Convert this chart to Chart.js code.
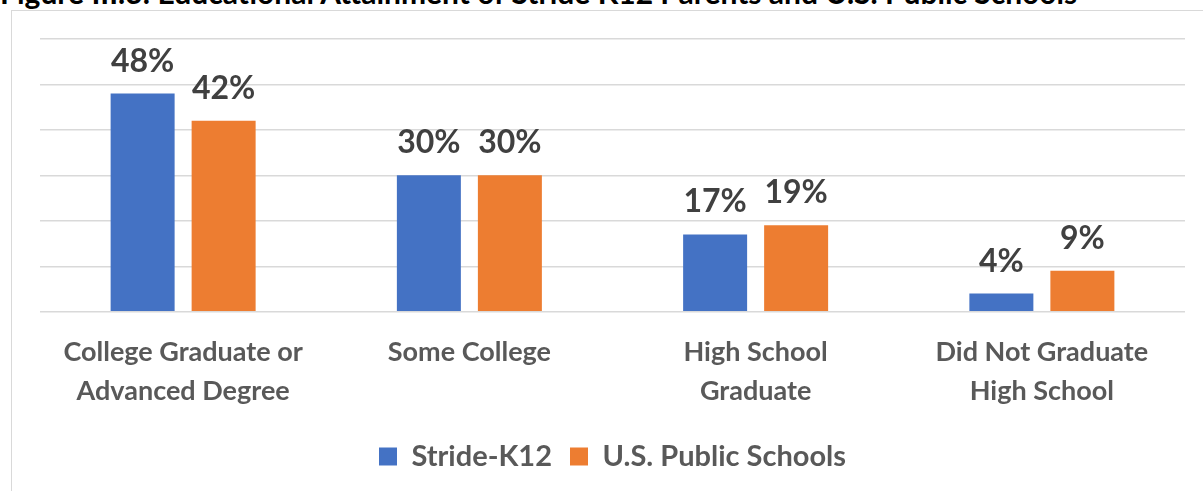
<!DOCTYPE html>
<html>
<head>
<meta charset="utf-8">
<script src="https://cdn.jsdelivr.net/npm/chart.js@4"></script>
<style>
    html, body { margin: 0; padding: 0; background: #fff; overflow: hidden; }
    #wrap { position: relative; width: 1203px; height: 491px; overflow: hidden; }
    #title {
        position: absolute; left: 0; top: -23px; white-space: nowrap;
        font: bold 30px Lato, sans-serif; color: #000; line-height: 30px;
    }
    #frame {
        position: absolute; left: 11px; top: 10px; width: 1300px; height: 600px;
        border: 1.5px solid #d9d9d9;
    }
    #box { position: absolute; left: 0; top: 0; width: 1203px; height: 491px; }
</style>
</head>
<body>
<div id="wrap">
    <div id="title">Figure III.3: Educational Attainment of Stride K12 Parents and U.S. Public Schools</div>
    <div id="frame"></div>
    <div id="box"><canvas id="chart"></canvas></div>
</div>
<script>
// data
const categories = [
    ["College Graduate or", "Advanced Degree"],
    ["Some College"],
    ["High School", "Graduate"],
    ["Did Not Graduate", "High School"]
];
const strideK12 = [48, 30, 17, 4];
const usPublic = [42, 30, 19, 9];
const seriesNames = ["Stride-K12", "U.S. Public Schools"];

const font = "Lato, sans-serif";

// percent labels above each bar
const barLabels = {
    id: "barLabels",
    afterDatasetsDraw(chart) {
        const ctx = chart.ctx;
        ctx.save();
        ctx.font = `bold 32px ${font}`;
        ctx.fillStyle = "#404040";
        ctx.textAlign = "center";
        ctx.textBaseline = "alphabetic";
        chart.data.datasets.forEach((ds, i) => {
            chart.getDatasetMeta(i).data.forEach((bar, j) => {
                ctx.fillText(ds.data[j] + "%", bar.x, bar.y - 22);
            });
        });
        ctx.restore();
    }
};

new Chart(document.getElementById("chart"), {
    type: "bar",
    data: {
        labels: categories,
        datasets: [{
            label: seriesNames[0],
            data: strideK12,
            backgroundColor: "#4472C4",
            categoryPercentage: 0.566,
            barPercentage: 0.79
        }, {
            label: seriesNames[1],
            data: usPublic,
            backgroundColor: "#ED7D31",
            categoryPercentage: 0.566,
            barPercentage: 0.79
        }]
    },
    options: {
        maintainAspectRatio: false,
        animation: false,
        layout: {
            padding: { left: 40, right: 18, top: 39, bottom: 10 }
        },
        scales: {
            x: {
                grid: { display: false },
                border: { display: false },
                ticks: {
                    color: "#595959",
                    font: { family: font, size: 27, weight: "bold", lineHeight: 1.45 },
                    maxRotation: 0,
                    padding: 13
                }
            },
            y: {
                min: 0,
                max: 60,
                ticks: { display: false, stepSize: 10 },
                grid: { color: "#d9d9d9", lineWidth: 1.5, drawTicks: false },
                border: { display: false }
            }
        },
        plugins: {
            legend: {
                position: "bottom",
                labels: {
                    color: "#595959",
                    font: { family: font, size: 29, weight: "bold" },
                    boxWidth: 18,
                    boxHeight: 18,
                    padding: 18
                }
            },
            tooltip: { enabled: false }
        }
    },
    plugins: [barLabels]
});
</script>
</body>
</html>
